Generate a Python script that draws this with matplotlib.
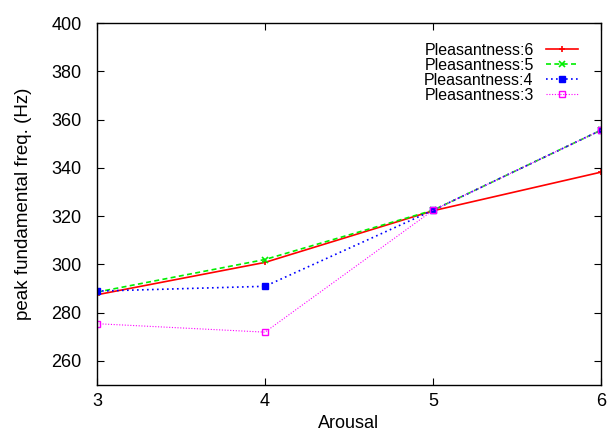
import matplotlib
matplotlib.use("Agg")
import matplotlib.pyplot as plt

plt.rcParams['font.family'] = ['Liberation Sans', 'DejaVu Sans']

# data
arousal = [3, 4, 5, 6]
p6 = [287.4, 300.8, 322.2, 338.2]
p5 = [288.5, 302.0, 322.4, 355.6]
p4 = [288.9, 290.9, 322.4, 355.6]
p3 = [275.4, 271.9, 322.4, 355.6]
labels = ['Pleasantness:6', 'Pleasantness:5', 'Pleasantness:4', 'Pleasantness:3']

fig = plt.figure(figsize=(6.07, 4.30), dpi=100)
ax = fig.add_axes([97/607, 1 - 385/430, 504/607, 362/430])

ax.plot(arousal, p6, color='#ff0000', lw=1.2, ls='-', marker='+', ms=5, mew=1.2, label=labels[0])
ax.plot(arousal, p5, color='#00ee00', lw=1.2, ls=(0, (3, 2)), marker='x', ms=4, mew=1.2, label=labels[1])
ax.plot(arousal, p4, color='#0000ff', lw=1.2, ls=(0, (1, 2)), marker='s', ms=4, label=labels[2])
ax.plot(arousal, p3, color='#ff00ff', lw=0.8, ls=(0, (1, 1.5)), marker='s', ms=5, mfc='none', mew=1.0, label=labels[3])

ax.set_xlim(3, 6)
ax.set_ylim(250, 400)
ax.set_xticks(arousal)
ax.set_yticks(range(260, 401, 20))
ax.tick_params(direction='in', length=5, width=0.8, top=True, right=True, labelsize=13)
ax.tick_params(axis='y', pad=11)
ax.tick_params(axis='x', pad=6)
for s in ax.spines.values():
    s.set_linewidth(1.0)

ax.set_xlabel('Arousal', fontsize=13, labelpad=3)
ax.set_ylabel('peak fundamental freq. (Hz)', fontsize=13.5, labelpad=14)

leg = ax.legend(loc='upper right', bbox_to_anchor=(0.982, 0.985), frameon=False, fontsize=11.5,
                markerfirst=False, handlelength=2.0, labelspacing=0.0, handletextpad=0.75)

fig.savefig('out.png', dpi=100)
